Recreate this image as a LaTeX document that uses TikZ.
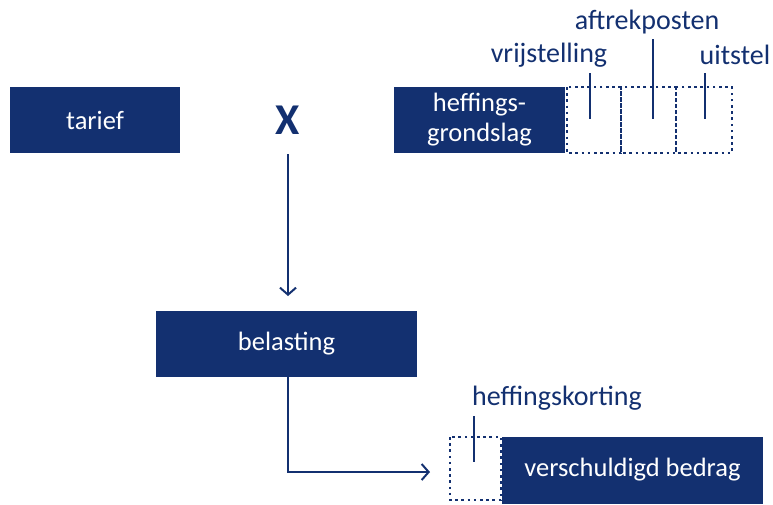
\documentclass[tikz,border=0pt]{standalone}
\usepackage{fontspec}
\setmainfont{Carlito}
\usetikzlibrary{arrows.meta}
\definecolor{navy}{RGB}{19,48,112}
\tikzset{
  box/.style={fill=navy, draw=none, text=white, font=\fontsize{26.5}{30}\selectfont, inner sep=0pt, align=center},
  dotbox/.style={draw=navy, line width=2.6pt, dash pattern=on 2.6pt off 3.6pt},
  lbl/.style={text=navy, font=\fontsize{28}{32}\selectfont, inner sep=0pt},
  tick/.style={draw=navy, line width=2.8pt},
  conn/.style={draw=navy, line width=2pt, -{Straight Barb[length=7pt,width=16pt,line width=2pt]}}
}
\begin{document}
\begin{tikzpicture}[x=1pt,y=-1pt]
\useasboundingbox (0,0) rectangle (773,504);
% top row
\node[box, minimum width=170pt, minimum height=66pt] (tarief) at (95,120) {tarief};
\node[text=navy, font=\fontsize{44}{48}\selectfont\bfseries, inner sep=0pt, anchor=base] (x) at (288,134) {X};
\node[box, minimum width=171pt, minimum height=66pt] (hg) at (479.5,120) {heffings-\\grondslag};
\draw[dotbox] (567,87) rectangle (621,153);
\draw[dotbox] (621,87) rectangle (676,153);
\draw[dotbox] (676,87) rectangle (732,153);
\node[lbl] (vrij) at (549,55) {vrijstelling};
\node[lbl] (aftrek) at (647,22) {aftrekposten};
\node[lbl] (uit) at (735,55) {uitstel};
\coordinate (v1) at (590,73); \coordinate (v2) at (590,119);
\coordinate (a1) at (653,39); \coordinate (a2) at (653,119);
\coordinate (u1) at (705,73); \coordinate (u2) at (705,119);
\draw[tick] (v1) -- (v2);
\draw[tick] (a1) -- (a2);
\draw[tick] (u1) -- (u2);
% middle
\node[box, minimum width=261pt, minimum height=66pt] (bel) at (286.5,344) {belasting};
\coordinate (xs) at (288,154);
\draw[conn] (xs) -- (288,296);
% bottom
\node[box, minimum width=261pt, minimum height=67pt] (vb) at (632.5,470) {verschuldigd bedrag};
\draw[dotbox] (450,437) rectangle (501,500);
\node[lbl] (hk) at (557,398) {heffingskorting};
\coordinate (k1) at (474,416); \coordinate (k2) at (474,462);
\draw[tick] (k1) -- (k2);
\coordinate (be) at (430,472);
\draw[conn] (bel.south -| 288,0) -- (288,472) -- (be);
\end{tikzpicture}
\end{document}
